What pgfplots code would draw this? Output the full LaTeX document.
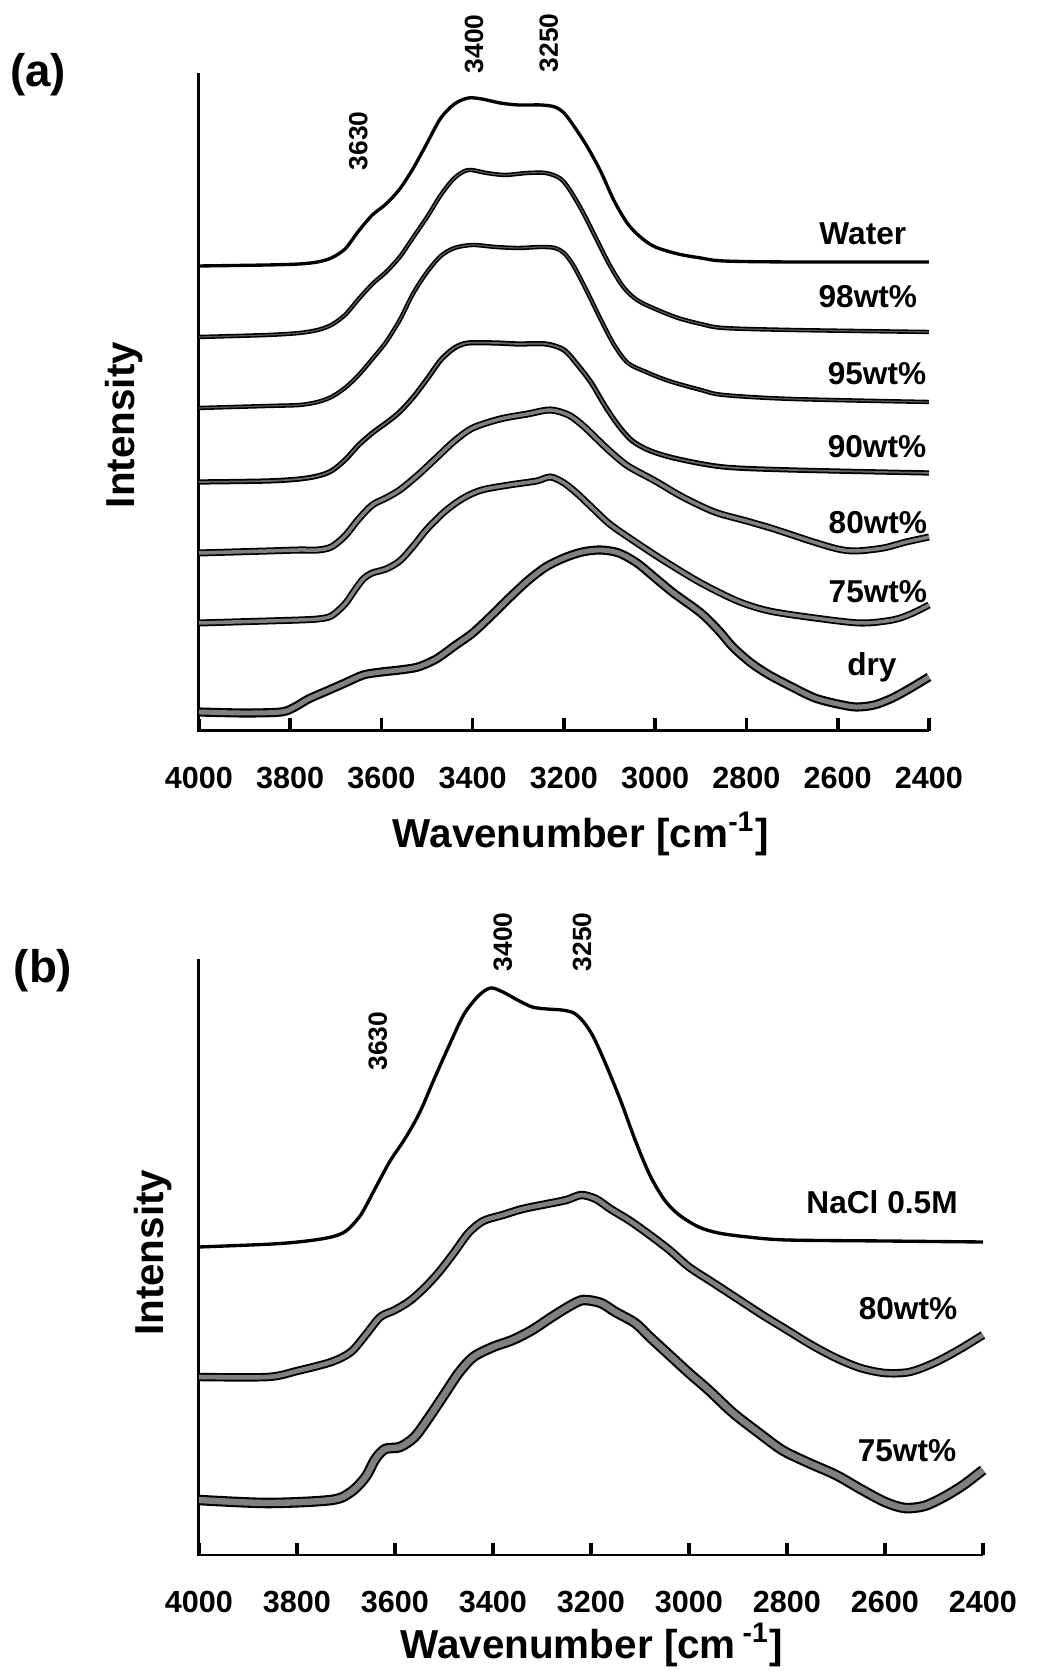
\documentclass[border=0pt]{standalone}
\usepackage{fontspec}
\setmainfont{Liberation Sans}
\usepackage{pgfplots}
\pgfplotsset{compat=1.18}

\pgfplotsset{
  spec/.style={
    x dir=reverse, xmin=2400, xmax=4000, ymin=0,
    enlargelimits=false, scale only axis, clip=false,
    axis line style={draw=none},
    ytick=\empty, xtick={2400,2600,...,4000},
    xtick pos=left, tick align=inside, major tick length=1.2mm,
    xtick style={draw=black, line width=0.9pt},
    /pgf/number format/assume math mode=true,
    /pgf/number format/1000 sep={},
    xticklabel style={font=\fontsize{8.7}{10}\selectfont\bfseries, anchor=center, yshift=-4.7mm},
    label style={font=\fontsize{11.5}{13}\selectfont\bfseries},
  },
  clean/.style={smooth, black, line width=0.95pt},
  band/.style n args={3}{smooth, draw=black!#3, line width=#2, preaction={draw=black, line width=#1}},
  tickmark/.style={draw=black, line width=1pt, mark=none, unbounded coords=jump},
}
\tikzset{
  curvelabel/.style={font=\fontsize{9}{10}\selectfont\bfseries},
  peak/.style={font=\fontsize{7.5}{9}\selectfont\bfseries, rotate=90},
  frame/.style={line width=0.85pt, black},
}

\begin{document}
\begin{tikzpicture}
\useasboundingbox (0,0) rectangle (103.6mm,167.1mm);

% (a) hydration series
\begin{axis}[spec, at={(19.9mm,94.0mm)}, anchor=south west,
  width=73mm, height=65.8mm, ymax=658,
  xlabel={Wavenumber [cm\textsuperscript{-1}]}, ylabel={Intensity},
  xlabel style={at={(axis description cs:0.523,-0.1565)}, anchor=center},
  ylabel style={at={(axis description cs:-0.1027,0.465)}, anchor=center}]
\draw[frame] (axis description cs:0,1) -- (axis description cs:0,0) -- (axis description cs:1,0);
% inward tick marks
\addplot[tickmark] coordinates {(3800,0) (3800,13) (3800,nan) (3600,0) (3600,13) (3600,nan) (3400,0) (3400,13) (3400,nan) (3200,0) (3200,13) (3200,nan) (3000,0) (3000,13) (3000,nan) (2800,0) (2800,13) (2800,nan) (2600,0) (2600,13) (2600,nan) (2400,0) (2400,13)};
% Water
\addplot[clean] coordinates {(4000,465) (3850,466) (3780,467) (3740,469) (3710,473) (3680,482) (3650,500) (3620,516) (3590,527) (3560,542) (3530,563) (3500,588) (3470,613) (3440,627) (3410,633) (3380,632) (3340,628) (3300,626) (3250,626) (3220,624) (3200,618) (3180,606) (3150,585) (3120,560) (3090,530) (3060,507) (3030,493) (3000,484) (2950,477) (2900,473) (2850,470) (2700,469) (2400,469)};
% 98wt%
\addplot[band={1.25pt}{0.35pt}{65}] coordinates {(4000,394) (3850,396) (3780,398) (3740,401) (3710,406) (3680,416) (3650,432) (3620,447) (3590,459) (3560,474) (3530,494) (3500,514) (3470,536) (3440,553) (3410,561) (3370,558) (3330,556) (3280,558) (3240,558) (3210,553) (3190,543) (3160,520) (3130,493) (3100,466) (3070,444) (3040,431) (3000,422) (2950,413) (2900,407) (2850,403) (2700,401) (2400,399)};
% 95wt%
\addplot[band={1.25pt}{0.35pt}{65}] coordinates {(4000,323) (3850,325) (3780,326) (3740,329) (3710,334) (3680,343) (3650,356) (3620,372) (3590,389) (3560,411) (3530,438) (3500,459) (3470,475) (3440,483) (3400,486) (3350,484) (3300,483) (3250,484) (3220,483) (3200,478) (3180,466) (3150,440) (3120,412) (3090,386) (3060,368) (3020,359) (2970,350) (2900,341) (2850,336) (2700,332) (2400,329)};
% 90wt%
\addplot[band={1.5pt}{0.5pt}{60}] coordinates {(4000,249) (3850,250) (3780,252) (3740,255) (3710,260) (3680,271) (3650,286) (3620,298) (3590,308) (3560,319) (3530,334) (3500,352) (3470,371) (3440,383) (3410,388) (3350,388) (3300,387) (3240,387) (3200,381) (3170,366) (3140,348) (3110,325) (3080,305) (3050,290) (3010,280) (2950,272) (2850,264) (2700,261) (2400,258)};
% 80wt%
\addplot[band={2pt}{1pt}{50}] coordinates {(4000,178) (3850,180) (3780,181) (3740,181) (3710,184) (3680,195) (3650,212) (3620,226) (3590,233) (3560,241) (3520,256) (3480,273) (3440,290) (3400,303) (3340,312) (3280,317) (3230,321) (3190,316) (3160,306) (3130,293) (3100,280) (3060,265) (3000,250) (2940,234) (2870,219) (2800,210) (2740,202) (2660,190) (2600,182) (2560,180) (2500,183) (2450,189) (2400,194)};
% 75wt%
\addplot[band={2pt}{1pt}{50}] coordinates {(4000,108) (3850,110) (3780,111) (3740,112) (3710,115) (3680,127) (3660,140) (3640,152) (3620,158) (3590,162) (3560,170) (3530,185) (3500,202) (3460,220) (3420,233) (3380,241) (3320,246) (3260,250) (3230,254) (3200,248) (3170,237) (3140,224) (3100,207) (3050,191) (2980,170) (2900,148) (2820,130) (2750,120) (2650,113) (2550,108) (2480,111) (2440,117) (2400,126)};
% dry
\addplot[band={2.6pt}{1.4pt}{50}] coordinates {(4000,19) (3900,18) (3820,19) (3790,24) (3760,32) (3720,40) (3680,48) (3640,56) (3600,59) (3560,61) (3520,64) (3480,72) (3440,85) (3400,98) (3360,115) (3320,133) (3280,150) (3240,164) (3200,173) (3160,179) (3120,181) (3080,178) (3040,168) (3000,153) (2960,138) (2900,118) (2860,100) (2830,84) (2790,68) (2750,56) (2700,44) (2650,33) (2600,27) (2560,24) (2520,26) (2480,33) (2440,43) (2400,54)};
\node[curvelabel] at (axis cs:2545,497) {Water};
\node[curvelabel] at (axis cs:2534,434) {98wt\%};
\node[curvelabel] at (axis cs:2514,357) {95wt\%};
\node[curvelabel] at (axis cs:2514,284) {90wt\%};
\node[curvelabel] at (axis cs:2512,208) {80wt\%};
\node[curvelabel] at (axis cs:2512,139) {75wt\%};
\node[curvelabel] at (axis cs:2525,64) {dry};
\node[peak] at (axis cs:3651,590) {3630};
\node[peak] at (axis cs:3397,687) {3400};
\node[peak] at (axis cs:3233,688) {3250};
\end{axis}

% (b) NaCl series
\begin{axis}[spec, at={(19.9mm,11.6mm)}, anchor=south west,
  width=78.4mm, height=59.6mm, ymax=596,
  xlabel={Wavenumber [cm\,\textsuperscript{-1}]}, ylabel={Intensity},
  xlabel style={at={(axis description cs:0.501,-0.151)}, anchor=center},
  ylabel style={at={(axis description cs:-0.0587,0.507)}, anchor=center}]
\draw[frame] (axis description cs:0,1) -- (axis description cs:0,0) -- (axis description cs:1,0);
% inward tick marks
\addplot[tickmark] coordinates {(3800,0) (3800,12) (3800,nan) (3600,0) (3600,12) (3600,nan) (3400,0) (3400,12) (3400,nan) (3200,0) (3200,12) (3200,nan) (3000,0) (3000,12) (3000,nan) (2800,0) (2800,12) (2800,nan) (2600,0) (2600,12) (2600,nan) (2400,0) (2400,12)};
% NaCl 0.5M
\addplot[clean] coordinates {(4000,308) (3850,311) (3780,314) (3730,318) (3700,324) (3670,340) (3640,367) (3610,394) (3580,416) (3550,442) (3520,476) (3490,509) (3460,540) (3430,559) (3405,567) (3380,563) (3350,555) (3320,548) (3290,546) (3260,545) (3235,542) (3215,533) (3195,518) (3170,491) (3140,455) (3110,415) (3080,380) (3050,355) (3020,340) (2980,328) (2940,322) (2880,318) (2800,315) (2600,314) (2400,313)};
% 80wt%
\addplot[band={2.4pt}{1.3pt}{50}] coordinates {(4000,178) (3860,178) (3800,184) (3730,193) (3690,203) (3660,220) (3630,238) (3600,245) (3570,254) (3540,267) (3510,283) (3480,302) (3450,322) (3420,334) (3380,340) (3340,346) (3290,351) (3250,355) (3220,360) (3190,356) (3160,346) (3120,334) (3080,320) (3040,305) (3000,288) (2950,272) (2900,256) (2850,240) (2800,225) (2750,210) (2700,197) (2650,187) (2600,182) (2550,183) (2500,192) (2450,205) (2400,220)};
% 75wt%
\addplot[band={3pt}{1.8pt}{50}] coordinates {(4000,55) (3860,52) (3730,55) (3690,63) (3660,78) (3640,96) (3620,106) (3590,108) (3560,118) (3530,138) (3500,160) (3470,182) (3440,198) (3400,208) (3360,215) (3320,225) (3280,238) (3240,250) (3215,255) (3180,252) (3150,243) (3110,232) (3080,218) (3040,200) (3000,182) (2960,165) (2910,142) (2860,123) (2810,105) (2760,93) (2700,80) (2650,66) (2600,53) (2560,47) (2520,49) (2480,58) (2440,70) (2400,85)};
\node[curvelabel] at (axis cs:2606,353) {NaCl 0.5M};
\node[curvelabel] at (axis cs:2553,246) {80wt\%};
\node[curvelabel] at (axis cs:2555,104) {75wt\%};
\node[peak] at (axis cs:3635,514) {3630};
\node[peak] at (axis cs:3380,613) {3400};
\node[peak] at (axis cs:3218,613) {3250};
\end{axis}

\node[font=\fontsize{13}{15}\selectfont\bfseries] at (3.8mm,159.6mm) {(a)};
\node[font=\fontsize{13}{15}\selectfont\bfseries] at (4.3mm,70.0mm) {(b)};
\end{tikzpicture}
\end{document}
